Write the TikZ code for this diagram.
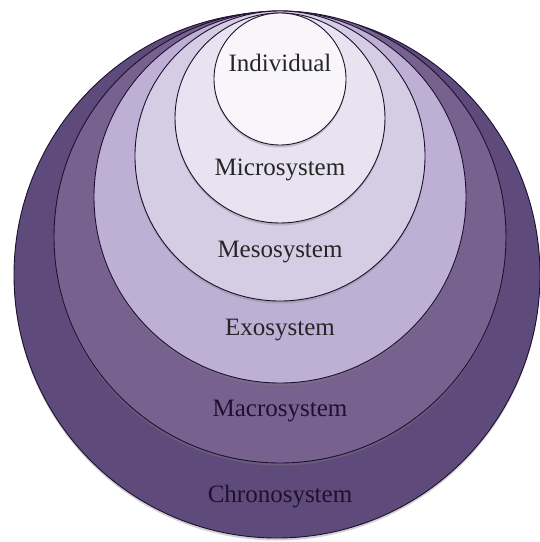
\documentclass[tikz,border=0pt]{standalone}
\usepackage{fontspec}
\setmainfont{Liberation Serif}
\usetikzlibrary{shadows}
\definecolor{chrono}{HTML}{5E4B7B}
\definecolor{macro}{HTML}{77628F}
\definecolor{exo}{HTML}{BDB0D4}
\definecolor{meso}{HTML}{D5CDE3}
\definecolor{micro}{HTML}{E8E3F0}
\definecolor{indiv}{HTML}{F8F6FB}
\definecolor{rim}{HTML}{1E1030}
\tikzset{
	ring/.style={draw=rim, line width=0.9pt, drop shadow={opacity=0.35, shadow xshift=0pt, shadow yshift=-2.5pt}},
	lab/.style={font=\fontsize{25}{30}\selectfont, inner sep=0pt}
}
\begin{document}
\begin{tikzpicture}[x=1pt,y=-1pt]
	\useasboundingbox (0,0) rectangle (540,542);
	\fill[white] (0,0) rectangle (540,542);
	\path[ring, fill=chrono] (277,275) circle (263pt);
	\path[ring, fill=macro] (280,237) circle (226pt);
	\path[ring, fill=exo] (280,197) circle (186pt);
	\path[ring, fill=meso] (280,156) circle (145pt);
	\path[ring, fill=micro] (280,118) circle (105pt);
	\path[ring, fill=indiv] (280,79) circle (66pt);
	\node[lab, text=black!85] (individual) at (280,63) {Individual};
	\node[lab, text=black!85] (microsystem) at (280,170) {Microsystem};
	\node[lab, text=black!85] (mesosystem) at (280,252) {Mesosystem};
	\node[lab, text=black!85] (exosystem) at (280,330) {Exosystem};
	\node[lab, text=rim] (macrosystem) at (280,411) {Macrosystem};
	\node[lab, text=rim] (chronosystem) at (280,497) {Chronosystem};
\end{tikzpicture}
\end{document}
